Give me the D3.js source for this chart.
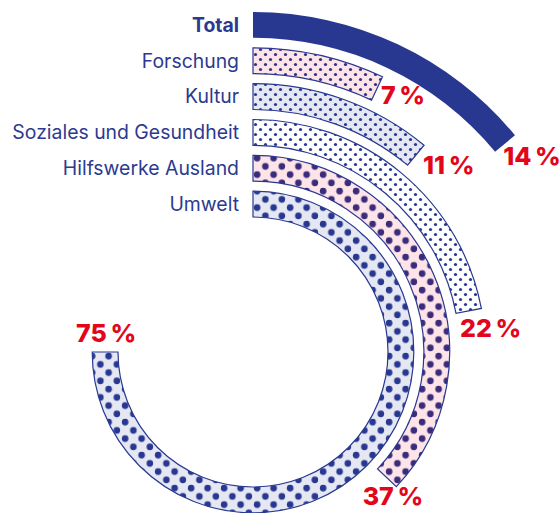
<!DOCTYPE html>
<html lang="de">
<head>
<meta charset="UTF-8">
<title>Radial bars</title>
<script src="https://d3js.org/d3.v7.min.js"></script>
<style>
    body { margin: 0; background: #fff; }
    #chart { width: 560px; height: 513px; }
    .cat { font-family: Inter, "Noto Sans", sans-serif; font-size: 19.4px; fill: #2b3a8f; }
    .cat.total { font-weight: 700; }
    .pct { font-family: Inter, "Liberation Sans", sans-serif; font-size: 25px; font-weight: 800; fill: #e2061b; }
</style>
</head>
<body>
<div id="chart"></div>
<script>
    // data
    const categories = ["Total", "Forschung", "Kultur", "Soziales und Gesundheit", "Hilfswerke Ausland", "Umwelt"];
    const shares = [14, 7, 11, 22, 37, 75];
    const patterns = ["solid", "pinkSmall", "blueSmall", "whiteSmall", "pinkBig", "blueBig"];

    const width = 560, height = 513;
    const cx = 253, cy = 352;
    const blue = "#283891";

    // label nudges from the arc end (layout only)
    const labelNudge = [[27, 21], [26, 16], [33, 19], [22, 26], [6, 27], [1, -10]];

    const svg = d3.select("#chart").append("svg")
        .attr("width", width)
        .attr("height", height);

    const defs = svg.append("defs");
    function dotPattern(id, bg, size, r, dotColor) {
        const p = defs.append("pattern")
            .attr("id", id)
            .attr("patternUnits", "userSpaceOnUse")
            .attr("width", size).attr("height", size);
        p.append("rect").attr("width", size).attr("height", size).attr("fill", bg);
        p.append("circle").attr("cx", size / 4).attr("cy", size / 4).attr("r", r).attr("fill", dotColor);
        p.append("circle").attr("cx", size * 3 / 4).attr("cy", size * 3 / 4).attr("r", r).attr("fill", dotColor);
    }
    dotPattern("pinkSmall", "#fde4e9", 10, 1.6, "#33307f");
    dotPattern("blueSmall", "#e5e8f3", 10, 1.6, blue);
    dotPattern("whiteSmall", "#ffffff", 10, 1.6, blue);
    dotPattern("pinkBig", "#fde4e9", 16.5, 3.3, "#3a2c7b");
    dotPattern("blueBig", "#e5e8f3", 16.5, 3.3, blue);

    const g = svg.append("g").attr("transform", `translate(${cx},${cy})`);

    const ring = d3.scaleBand()
        .domain(categories)
        .range([340, 135])
        .paddingInner(0.28)
        .paddingOuter(0);

    const angle = d3.scaleLinear().domain([0, 100]).range([0, 2 * Math.PI]);

    const arc = d3.arc()
        .innerRadius(d => ring(d.cat))
        .outerRadius(d => ring(d.cat) + ring.bandwidth())
        .startAngle(0)
        .endAngle(d => angle(d.value));

    const rows = categories.map((c, i) => ({ cat: c, value: shares[i], pattern: patterns[i], i: i }));

    g.selectAll("path.bar")
        .data(rows)
        .enter()
        .append("path")
        .attr("class", "bar")
        .attr("d", arc)
        .attr("fill", d => d.pattern === "solid" ? blue : `url(#${d.pattern})`)
        .attr("stroke", d => d.pattern === "solid" ? "none" : blue)
        .attr("stroke-width", 1.2);

    // category names to the left of the arc starts
    g.selectAll("text.cat")
        .data(rows)
        .enter()
        .append("text")
        .attr("class", d => d.i === 0 ? "cat total" : "cat")
        .attr("x", -14)
        .attr("y", d => -(ring(d.cat) + ring.bandwidth() / 2))
        .attr("dy", "0.35em")
        .attr("text-anchor", "end")
        .text(d => d.cat);

    // percentage labels past the arc ends
    g.selectAll("text.pct")
        .data(rows)
        .enter()
        .append("text")
        .attr("class", "pct")
        .attr("text-anchor", "middle")
        .attr("x", d => {
            const r = ring(d.cat) + ring.bandwidth() / 2;
            return r * Math.sin(angle(d.value)) + labelNudge[d.i][0];
        })
        .attr("y", d => {
            const r = ring(d.cat) + ring.bandwidth() / 2;
            return -r * Math.cos(angle(d.value)) + labelNudge[d.i][1];
        })
        .text(d => d.value + "\u202F%");
</script>
</body>
</html>
